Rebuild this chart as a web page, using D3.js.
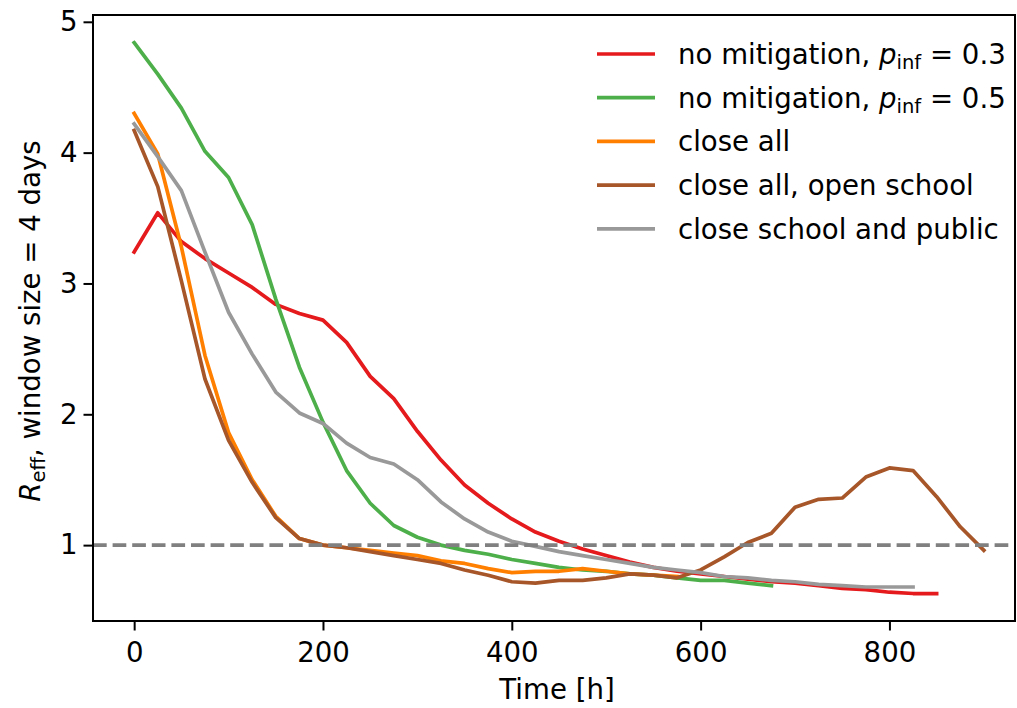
<!DOCTYPE html>
<html>
<head>
<meta charset="utf-8">
<script src="https://cdn.jsdelivr.net/npm/d3@7"></script>
<style>
  html, body { margin: 0; padding: 0; background: #fff; }
  svg { display: block; }
  text { font-family: "DejaVu Sans", sans-serif; fill: #000; }
</style>
</head>
<body>
<svg id="chart" width="1017" height="708"></svg>
<script>
// ---- data (time step 25 h) ----
const step = 25;
const noMit03 = [3.24, 3.54, 3.32, 3.19, 3.08, 2.97, 2.84, 2.77, 2.72, 2.55, 2.29, 2.12, 1.87, 1.65, 1.46, 1.32, 1.20, 1.10, 1.03, 0.97, 0.92, 0.87, 0.83, 0.80, 0.78, 0.76, 0.74, 0.72, 0.71, 0.69, 0.67, 0.66, 0.64, 0.63, 0.63];
const noMit05 = [4.84, 4.60, 4.34, 4.01, 3.81, 3.45, 2.88, 2.36, 1.94, 1.57, 1.32, 1.15, 1.06, 1.00, 0.96, 0.93, 0.89, 0.86, 0.83, 0.81, 0.80, 0.78, 0.77, 0.75, 0.73, 0.73, 0.71, 0.69];
const closeAll = [4.30, 3.99, 3.28, 2.45, 1.86, 1.50, 1.22, 1.05, 1.00, 0.98, 0.96, 0.94, 0.92, 0.88, 0.86, 0.82, 0.79, 0.80, 0.80, 0.82, 0.80, 0.78, 0.77, 0.76];
const closeAllOpenSchool = [4.17, 3.74, 3.02, 2.27, 1.80, 1.48, 1.21, 1.05, 1.00, 0.98, 0.95, 0.92, 0.89, 0.86, 0.81, 0.77, 0.72, 0.71, 0.73, 0.73, 0.75, 0.78, 0.77, 0.75, 0.81, 0.91, 1.02, 1.09, 1.29, 1.35, 1.36, 1.52, 1.59, 1.57, 1.37, 1.14, 0.96];
const closeSchoolPublic = [4.22, 3.97, 3.71, 3.24, 2.78, 2.46, 2.17, 2.01, 1.93, 1.78, 1.67, 1.62, 1.50, 1.33, 1.20, 1.10, 1.03, 0.99, 0.95, 0.92, 0.89, 0.86, 0.83, 0.81, 0.79, 0.76, 0.75, 0.73, 0.72, 0.70, 0.69, 0.68, 0.68, 0.68];
const xTicks = [0, 200, 400, 600, 800];
const yTicks = [1, 2, 3, 4, 5];
const threshold = 1;

const seriesList = [
  { name: "noMit03", label: ["no mitigation, ", "p", "inf", " = 0.3"], values: noMit03, color: "#e41a1c" },
  { name: "noMit05", label: ["no mitigation, ", "p", "inf", " = 0.5"], values: noMit05, color: "#4daf4a" },
  { name: "closeAll", label: ["close all"], values: closeAll, color: "#ff7f00" },
  { name: "closeAllOpenSchool", label: ["close all, open school"], values: closeAllOpenSchool, color: "#a65628" },
  { name: "closeSchoolPublic", label: ["close school and public"], values: closeSchoolPublic, color: "#999999" }
];

// ---- layout ----
const L = 93, R = 1015, T = 15, B = 621;
const svg = d3.select("#chart");
const x = d3.scaleLinear().domain([-43.6, 933]).range([L, R]);
const y = d3.scaleLinear().domain([0.42, 5.052]).range([B, T]);

const fontSize = 27.6;
const lw = 3.7;

// axes
const xAxis = svg.append("g").attr("transform", `translate(0,${B})`)
  .call(d3.axisBottom(x).tickValues(xTicks).tickFormat(d3.format("d")).tickSize(9.5).tickPadding(12));
const yAxis = svg.append("g").attr("transform", `translate(${L},0)`)
  .call(d3.axisLeft(y).tickValues(yTicks).tickFormat(d3.format("d")).tickSize(9.5).tickPadding(6));
[xAxis, yAxis].forEach(g => {
  g.select(".domain").remove();
  g.selectAll(".tick line").attr("stroke", "#000").attr("stroke-width", 2);
  g.selectAll(".tick text").attr("font-size", fontSize).attr("font-family", "DejaVu Sans").attr("fill", "#000");
});

// lines
const line = d3.line().x((d, i) => x(i * step)).y(d => y(d));
const plot = svg.append("g");
seriesList.forEach(s => {
  plot.append("path")
    .datum(s.values)
    .attr("fill", "none")
    .attr("stroke", s.color)
    .attr("stroke-width", lw)
    .attr("stroke-linejoin", "round")
    .attr("stroke-linecap", "square")
    .attr("d", line);
});

// threshold line
plot.append("line")
  .attr("x1", L).attr("x2", R)
  .attr("y1", y(threshold)).attr("y2", y(threshold))
  .attr("stroke", "#808080").attr("stroke-width", lw)
  .attr("stroke-dasharray", "13.7,5.9");

// frame
svg.append("rect").attr("x", L).attr("y", T).attr("width", R - L).attr("height", B - T)
  .attr("fill", "none").attr("stroke", "#000").attr("stroke-width", 2);

// axis labels
svg.append("text").attr("x", (L + R) / 2 + 3).attr("y", 699).attr("text-anchor", "middle")
  .attr("font-size", fontSize).text("Time [h]");

const yl = svg.append("text").attr("transform", `translate(40,${(T + B) / 2 + 3}) rotate(-90)`)
  .attr("text-anchor", "middle").attr("font-size", fontSize);
yl.append("tspan").attr("font-style", "italic").text("R");
yl.append("tspan").attr("font-size", 19.5).attr("dy", 5).text("eff");
yl.append("tspan").attr("dy", -5).text(", window size = 4 days");

// legend
const legend = svg.append("g");
const rowY0 = 54, rowH = 43.7;
seriesList.forEach((s, i) => {
  const yy = rowY0 + i * rowH;
  legend.append("line").attr("x1", 597).attr("x2", 655).attr("y1", yy).attr("y2", yy)
    .attr("stroke", s.color).attr("stroke-width", lw);
  const t = legend.append("text").attr("x", 678).attr("y", yy + 10).attr("font-size", fontSize);
  if (s.label.length === 1) {
    t.text(s.label[0]);
  } else {
    t.append("tspan").text(s.label[0]);
    t.append("tspan").attr("font-style", "italic").text(s.label[1]);
    t.append("tspan").attr("font-size", 19.5).attr("dy", 5).text(s.label[2]);
    t.append("tspan").attr("dy", -5).text(s.label[3]);
  }
});
</script>
</body>
</html>
